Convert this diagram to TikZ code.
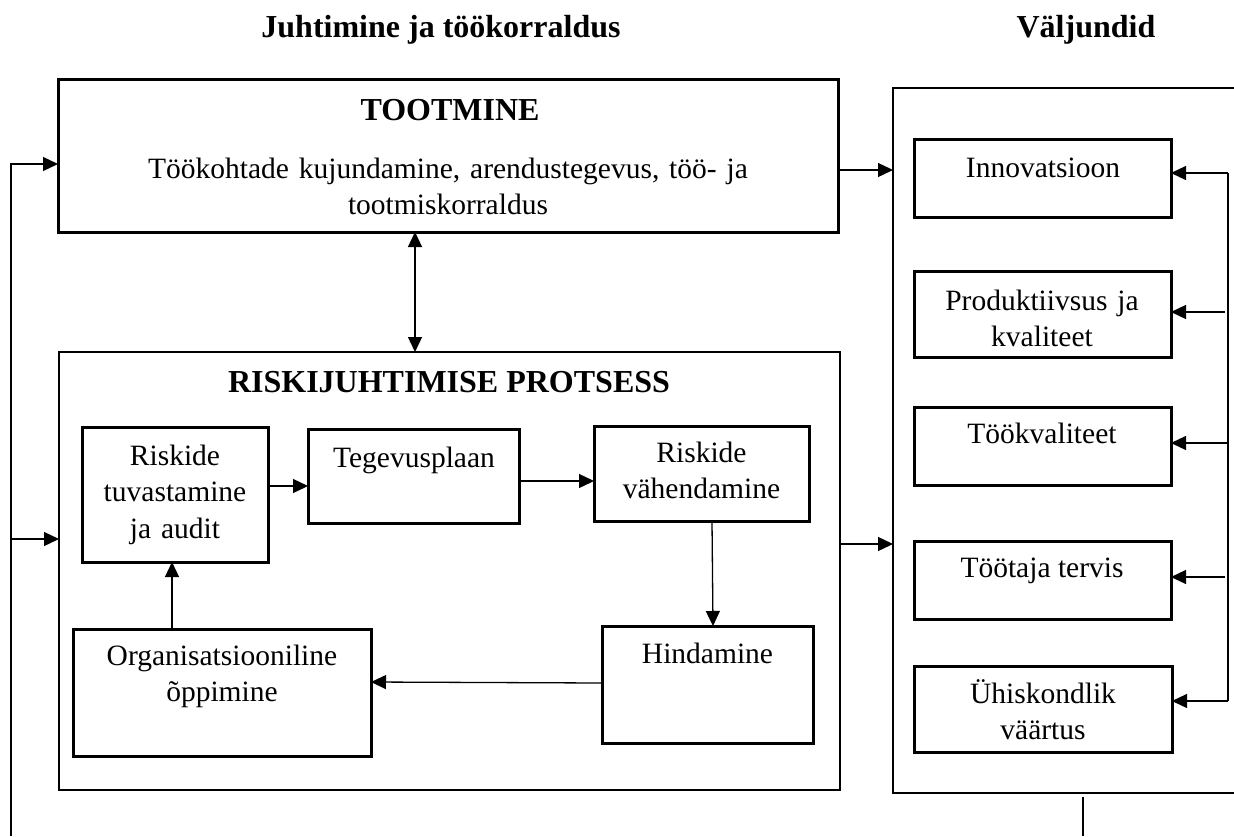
\documentclass[tikz,border=0pt]{standalone}
\usepackage{fontspec}
\setmainfont{Liberation Serif}
\usetikzlibrary{arrows.meta}
\begin{document}
\begin{tikzpicture}[x=1pt,y=-1pt,
  thickbox/.style={draw, line width=3pt, inner sep=0pt, outer sep=0pt, anchor=north west},
  thinbox/.style={draw, line width=1.5pt, inner sep=0pt, outer sep=0pt, anchor=north west},
  body/.style={font=\fontsize{29.5}{36.5}\selectfont, align=center, inner sep=0pt, anchor=base},
  head/.style={font=\bfseries\fontsize{32}{38}\selectfont, inner sep=0pt, anchor=base},
  conn/.style={line width=1.3pt},
  arr/.style={line width=1.3pt, -{Triangle[length=15pt,width=14pt]}},
  arrr/.style={line width=1.3pt, {Triangle[length=15pt,width=14pt]}-{Triangle[length=15pt,width=14pt]}}]
\useasboundingbox (0,0) rectangle (1234,836);

% headings
\node[head] (h1) at (441,37) {Juhtimine ja töökorraldus};
\node[head] (h2) at (1086,37) {Väljundid};

% TOOTMINE
\node[thickbox, minimum width=780pt, minimum height=153pt] (toot) at (58,79) {};
\node[head] (tootT) at (450,120) {TOOTMINE};
\node[body, text width=720pt] (tootB) at (448,178) {Töökohtade kujundamine, arendustegevus, töö- ja\\tootmiskorraldus};

% risk container
\node[thinbox, minimum width=781pt, minimum height=438pt] (risk) at (59,352) {};
\node[head] (riskT) at (449,392) {RISKIJUHTIMISE PROTSESS};

% inner process boxes
\node[thickbox, minimum width=186pt, minimum height=135pt] (tuv) at (82,427) {};
\node[body, text width=180pt] (tuvT) at (175,465) {Riskide\\tuvastamine\\ja audit};
\node[thickbox, minimum width=211pt, minimum height=94pt] (teg) at (308,429) {};
\node[body] (tegT) at (414,467) {Tegevusplaan};
\node[thickbox, minimum width=215pt, minimum height=95pt] (vah) at (594,426) {};
\node[body, text width=210pt] (vahT) at (701.5,462) {Riskide\\vähendamine};
\node[thickbox, minimum width=211pt, minimum height=117pt] (hind) at (602,626) {};
\node[body] (hindT) at (707.5,663) {Hindamine};
\node[thickbox, minimum width=298pt, minimum height=127pt] (org) at (73,629) {};
\node[body, text width=290pt] (orgT) at (222,665) {Organisatsiooniline\\õppimine};

% output container (right side cut off by the page)
\node[minimum width=341pt, minimum height=705pt, inner sep=0pt, outer sep=0pt, anchor=north west] (out) at (893,88) {};
\draw[line width=1.5pt] (out.north east) -- (out.north west) -- (out.south west) -- (out.south east);

% output boxes
\node[thickbox, minimum width=257pt, minimum height=78pt] (innov) at (914,139) {};
\node[body] (innovT) at (1043,177) {Innovatsioon};
\node[thickbox, minimum width=257pt, minimum height=86pt] (prod) at (914,271) {};
\node[body, text width=250pt] (prodT) at (1042,310) {Produktiivsus ja\\kvaliteet};
\node[thickbox, minimum width=257pt, minimum height=78pt] (tkv) at (914,407) {};
\node[body] (tkvT) at (1042,443) {Töökvaliteet};
\node[thickbox, minimum width=257pt, minimum height=78pt] (tterv) at (914,541) {};
\node[body] (ttervT) at (1042,577) {Töötaja tervis};
\node[thickbox, minimum width=258pt, minimum height=86pt] (uhis) at (914,666) {};
\node[body, text width=250pt] (uhisT) at (1043,703) {Ühiskondlik\\väärtus};

% left feedback line
\coordinate (fbB) at (11,836);
\coordinate (fbT) at (11,164);
\coordinate (fbM) at (11,539);
\draw[arr] (fbB) -- (fbT) -- (toot.west |- fbT);
\draw[arr] (fbM) -- (risk.west |- fbM);

% toot <-> risk
\draw[arrr] (toot.south -| 415,0) -- (risk.north -| 415,0);

% process flow
\draw[arr] (tuv.east |- 0,486) -- (teg.west |- 0,486);
\draw[arr] (teg.east |- 0,481) -- (vah.west |- 0,481);
\draw[arr] (vah.south -| 712,0) -- (hind.north -| 713,0);
\draw[arr] (hind.west |- 0,683) -- (org.east |- 0,682);
\draw[arr] (org.north -| 172,0) -- (tuv.south -| 172,0);

% to outputs
\draw[arr] (toot.east |- 0,170) -- (out.west |- 0,170);
\draw[arr] (risk.east |- 0,544) -- (out.west |- 0,544);

% right feedback bus
\coordinate (busT) at (1228,173);
\coordinate (busB) at (1228,701);
\coordinate (busP) at (1225,312);
\coordinate (busK) at (1228,443);
\coordinate (busV) at (1225,577);
\draw[conn] (busT) -- (busB);
\draw[arr] (busT) -- (innov.east |- busT);
\draw[arr] (busP) -- (prod.east |- busP);
\draw[arr] (busK) -- (tkv.east |- busK);
\draw[arr] (busV) -- (tterv.east |- busV);
\draw[arr] (busB) -- (uhis.east |- busB);

% bottom line below outputs
\coordinate (botT) at (1083,797);
\coordinate (botB) at (1083,836);
\draw[conn] (botT) -- (botB);
\end{tikzpicture}
\end{document}
